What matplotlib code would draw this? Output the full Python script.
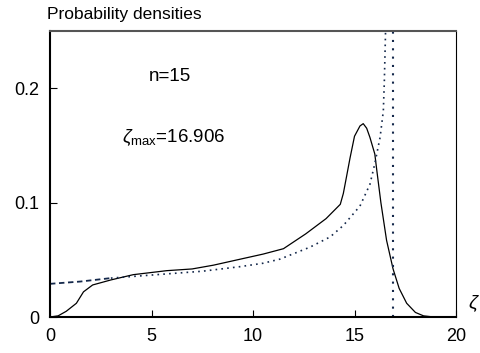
import matplotlib
matplotlib.use('Agg')
import matplotlib.pyplot as plt

plt.rcParams['font.family'] = ['Liberation Sans', 'DejaVu Sans']
plt.rcParams['mathtext.fontset'] = 'custom'
plt.rcParams['mathtext.rm'] = 'Liberation Sans'
plt.rcParams['mathtext.it'] = 'Liberation Sans:italic'

# curva continua (densidad simulada)
x_sim = [0, 0.4, 0.8, 1.3, 1.65, 2.1, 3.0, 4.1, 5.75, 7.0, 8.05, 9.36, 10.5, 11.5,
         12.6, 13.6, 14.3, 14.45, 14.6, 14.78, 15.0, 15.27, 15.43, 15.6, 15.76,
         16.0, 16.1, 16.3, 16.58, 16.9, 17.2, 17.57, 18.0, 18.4, 18.9, 19.2]
y_sim = [0, 0.001, 0.005, 0.012, 0.022, 0.028, 0.0324, 0.037, 0.0405, 0.042,
         0.0453, 0.0505, 0.055, 0.0597, 0.0727, 0.086, 0.0985, 0.108, 0.122,
         0.139, 0.158, 0.167, 0.169, 0.165, 0.157, 0.1425, 0.128, 0.100, 0.067,
         0.042, 0.025, 0.012, 0.004, 0.001, 0, 0]

# curva punteada (densidad teorica)
x_teo = [0, 1.5, 3.0, 4.5, 6.0, 7.5, 9.36, 10.5, 11.33, 12.8, 13.8, 14.45,
         15.27, 15.76, 16.0, 16.26, 16.42, 16.47, 16.53]
y_teo = [0.029, 0.031, 0.034, 0.036, 0.038, 0.040, 0.044, 0.047, 0.0506,
         0.061, 0.070, 0.080, 0.097, 0.116, 0.134, 0.157, 0.18, 0.206, 0.25]

zeta_max = 16.906
n = 15
x_ticks = [0, 5, 10, 15, 20]
y_ticks = [0, 0.1, 0.2]
y_tick_labels = ['0', '0.1', '0.2']

navy = '#14284b'

fig = plt.figure(figsize=(4.8, 3.53), dpi=100)
ax = fig.add_axes([50 / 480, 36 / 353, 406 / 480, 286 / 353])

ax.plot(x_sim, y_sim, color='black', lw=0.9)
# tramo inicial con guiones, luego puntos
k = 2
ax.plot(x_teo[:k + 1], y_teo[:k + 1], color=navy, lw=1.3, linestyle=(0, (3, 2)))
ax.plot(x_teo[k:], y_teo[k:], color=navy, lw=1.2, linestyle=(0, (1, 2.5)))
ax.plot([zeta_max, zeta_max], [0, 0.25], color=navy, lw=1.5, linestyle=(0, (1, 3)))

ax.set_xlim(0, 20)
ax.set_ylim(0, 0.25)
ax.set_xticks(x_ticks)
ax.set_yticks(y_ticks)
ax.set_yticklabels(y_tick_labels)
ax.tick_params(direction='in', length=5, width=0.8, labelsize=13, pad=8)

ax.spines['top'].set_color('#555555')
ax.spines['top'].set_linewidth(1.5)
ax.spines['left'].set_linewidth(1.5)
ax.spines['bottom'].set_linewidth(1.5)
ax.spines['right'].set_linewidth(0.8)

ax.text(5.9, 0.21, f'n={n}', fontsize=13.5, ha='center', va='center')
ax.text(3.55, 0.157, r'$\zeta_{\rm max}$' + f'={zeta_max}', fontsize=13.5,
        ha='left', va='center')
ax.text(20.6, 0.012, r'$\zeta$', fontsize=14, ha='left', va='center', clip_on=False)
fig.text(47 / 480, 1 - 14 / 353, 'Probability densities', fontsize=12.5,
         ha='left', va='center')

fig.savefig('out.png', dpi=100)
